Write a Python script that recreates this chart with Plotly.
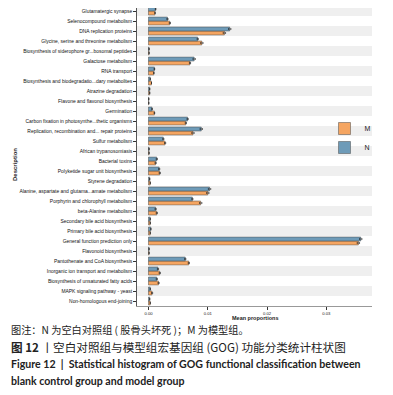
import plotly.graph_objects as go

categories = [
    "Glutamatergic synapse",
    "Selenocompound metabolism",
    "DNA replication proteins",
    "Glycine, serine and threonine metabolism",
    "Biosynthesis of siderophore gr...bosomal peptides",
    "Galactose metabolism",
    "RNA transport",
    "Biosynthesis and biodegradatio...dary metabolites",
    "Atrazine degradation",
    "Flavone and flavonol biosynthesis",
    "Germination",
    "Carbon fixation in photosynthe...thetic organisms",
    "Replication, recombination and... repair proteins",
    "Sulfur metabolism",
    "African trypanosomiasis",
    "Bacterial toxins",
    "Polyketide sugar unit biosynthesis",
    "Styrene degradation",
    "Alanine, aspartate and glutama...amate metabolism",
    "Porphyrin and chlorophyll metabolism",
    "beta-Alanine metabolism",
    "Secondary bile acid biosynthesis",
    "Primary bile acid biosynthesis",
    "General function prediction only",
    "Flavonoid biosynthesis",
    "Pantothenate and CoA biosynthesis",
    "Inorganic ion transport and metabolism",
    "Biosynthesis of unsaturated fatty acids",
    "MAPK signaling pathway - yeast",
    "Non-homologous end-joining",
]
N_values = [0.0012, 0.0032, 0.0137, 0.0083, 0.0001, 0.0077, 0.0010, 0.0003, 0.0002, 0.00005,
            0.0006, 0.0066, 0.0089, 0.0025, 0.0001, 0.0014, 0.0018, 0.0002, 0.0103, 0.0074,
            0.0012, 0.0003, 0.0004, 0.0358, 0.0001, 0.0062, 0.0016, 0.0014, 0.0003, 0.0002]
M_values = [0.0011, 0.0036, 0.0128, 0.0090, 0.0001, 0.0070, 0.0009, 0.0005, 0.0002, 0.00005,
            0.0010, 0.0063, 0.0075, 0.0028, 0.0001, 0.0012, 0.0019, 0.0003, 0.0100, 0.0088,
            0.0014, 0.0003, 0.0003, 0.0354, 0.0001, 0.0068, 0.0019, 0.0017, 0.0006, 0.0003]
N_err = [0.00005, 0.0001, 0.0002, 0.0001, 0.0, 0.0002, 0.00005, 0.0, 0.0, 0.0,
         0.00005, 0.0001, 0.0002, 0.0001, 0.0, 0.0001, 0.0001, 0.0, 0.0002, 0.0001,
         0.0001, 0.0, 0.0, 0.0002, 0.0, 0.0001, 0.0001, 0.0001, 0.0, 0.0]
M_err = [0.00005, 0.0001, 0.0002, 0.0002, 0.0, 0.0001, 0.00005, 0.0, 0.0, 0.0,
         0.00005, 0.0001, 0.0002, 0.0001, 0.0, 0.0001, 0.0001, 0.0, 0.0002, 0.0002,
         0.0001, 0.0, 0.0, 0.0002, 0.0, 0.0001, 0.0001, 0.0001, 0.0001, 0.0]
x_ticks = [0.00, 0.01, 0.02, 0.03]
x_tick_labels = ["0.00", "0.01", "0.02", "0.03"]

ypos = list(range(len(categories)))

ORANGE = "#F5A561"
BLUE = "#6E9BB8"
EDGE = "#4a4a4a"

fig = go.Figure()

fig.add_trace(go.Bar(
    y=ypos, x=M_values, orientation="h", name="M",
    marker=dict(color=ORANGE, line=dict(color=EDGE, width=0.5)),
    width=0.4, offset=0.0,
    error_x=dict(type="data", array=M_err, color="#222", thickness=0.6, width=1),
))
fig.add_trace(go.Bar(
    y=ypos, x=N_values, orientation="h", name="N",
    marker=dict(color=BLUE, line=dict(color=EDGE, width=0.5)),
    width=0.4, offset=-0.4,
    error_x=dict(type="data", array=N_err, color="#222", thickness=0.6, width=1),
))

shapes = []
for i in range(0, len(categories), 2):
    shapes.append(dict(type="rect", xref="paper", yref="y", x0=0, x1=1,
                       y0=i - 0.5, y1=i + 0.5, fillcolor="#EFEFEF",
                       line=dict(width=0), layer="below"))

# page body has an 8px default margin: the figure starts at screen (8, 8)
OFF = 8
W, H = 393, 395
SPL, SPR, SPT, SPB = 137, 372, 8, 306  # panel edges in screen pixels


def px(x):
    return (x - SPL) / (SPR - SPL)


def py(y):
    return (SPB - y) / (SPB - SPT)


annotations = [
    dict(text="<b>Description</b>", x=px(15), y=py(165), xref="paper", yref="paper",
         textangle=-90, showarrow=False, font=dict(size=6, color="#222", family="Liberation Sans"),
         xanchor="center", yanchor="middle"),
    dict(text="<b>Mean proportions</b>", x=px(254.5), y=py(318), xref="paper", yref="paper",
         showarrow=False, font=dict(size=5.5, color="#222", family="Liberation Sans"),
         xanchor="center", yanchor="middle"),
    dict(text="图注：N 为空白对照组 ( 股骨头坏死 )；M 为模型组。", x=px(9), y=py(329),
         xref="paper", yref="paper", showarrow=False, xanchor="left", yanchor="middle",
         font=dict(size=10.2, color="#222", family="Noto Sans CJK SC")),
    dict(text="<b>图 12</b> 丨空白对照组与模型组宏基因组 (GOG) 功能分类统计柱状图", x=px(9), y=py(347),
         xref="paper", yref="paper", showarrow=False, xanchor="left", yanchor="middle",
         font=dict(size=11.6, color="#222", family="Noto Sans CJK SC")),
    dict(text="<b>Figure 12  |  Statistical histogram of GOG functional classification between</b>",
         x=px(9), y=py(364), xref="paper", yref="paper", showarrow=False, xanchor="left",
         yanchor="middle", font=dict(size=10.6, color="#222", family="Lato")),
    dict(text="<b>blank control group and model group</b>",
         x=px(9), y=py(381), xref="paper", yref="paper", showarrow=False, xanchor="left",
         yanchor="middle", font=dict(size=10.6, color="#222", family="Lato")),
]

fig.update_layout(
    width=W, height=H,
    margin=dict(l=SPL - OFF, r=W - (SPR - OFF), t=SPT - OFF, b=H - (SPB - OFF),
                pad=0, autoexpand=False),
    paper_bgcolor="white", plot_bgcolor="white",
    shapes=shapes,
    annotations=annotations,
    showlegend=True,
    legend=dict(x=px(324.5), y=py(114), xanchor="left", yanchor="top",
                font=dict(size=7, color="#222", family="Liberation Sans"),
                bgcolor="rgba(0,0,0,0)", itemwidth=30, tracegroupgap=0,
                traceorder="normal"),
    font=dict(family="Liberation Sans", color="#333"),
)

fig.update_yaxes(
    tickmode="array", tickvals=ypos, ticktext=categories,
    range=[len(categories) - 0.5, -0.3],
    tickfont=dict(size=4.95, color="#111", family="Liberation Sans"),
    ticks="outside", ticklen=3, tickwidth=0.6, tickcolor="#333",
    showline=True, linecolor="#555", linewidth=0.6,
    showgrid=False, zeroline=False, automargin=False,
)
fig.update_xaxes(
    tickmode="array", tickvals=x_ticks, ticktext=x_tick_labels,
    range=[-0.00194, 0.0377],
    tickfont=dict(size=4.2, color="#222", family="Liberation Sans"),
    ticks="outside", ticklen=3, tickwidth=0.6, tickcolor="#333",
    showline=True, linecolor="#999", linewidth=0.6,
    showgrid=False, zeroline=False, automargin=False,
)

fig.write_html("out.html")
